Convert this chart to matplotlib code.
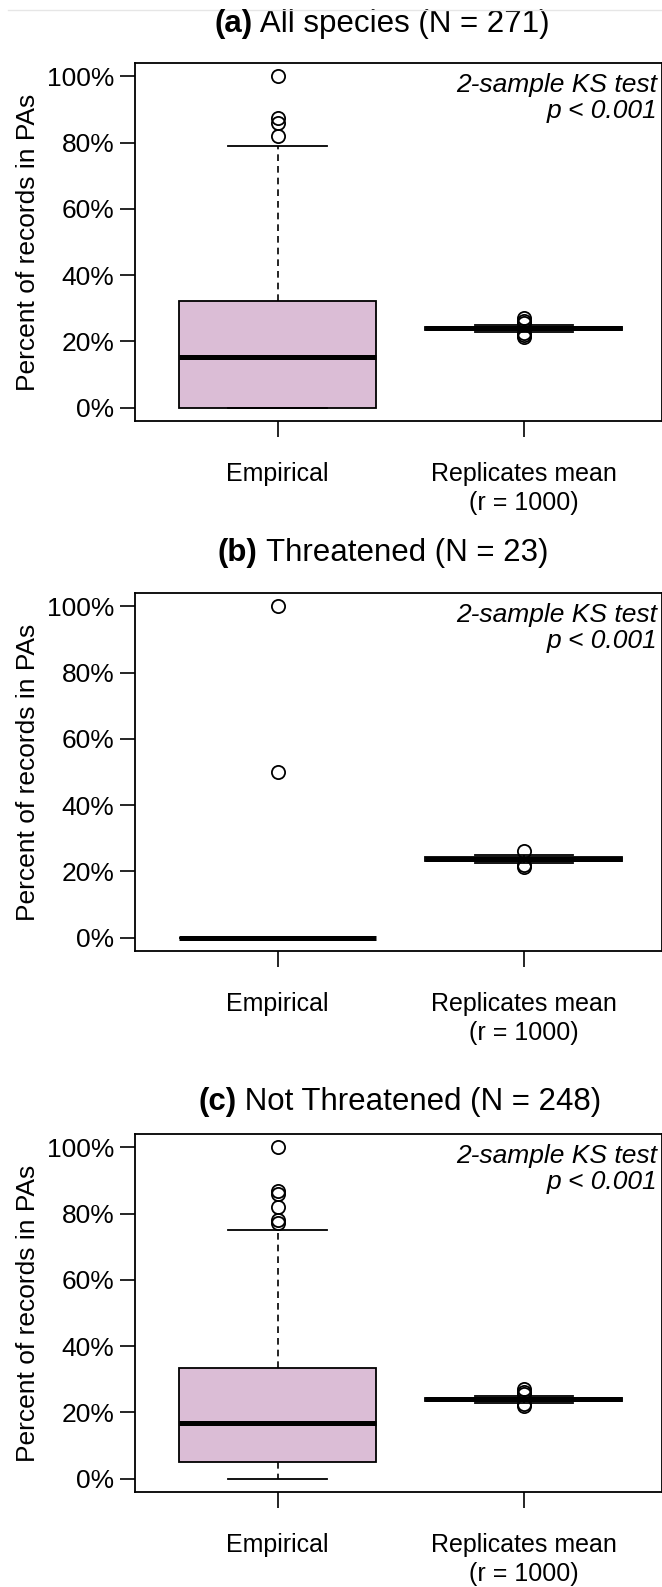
import matplotlib
matplotlib.use("Agg")
import matplotlib.pyplot as plt
from matplotlib.lines import Line2D
from matplotlib.ticker import FuncFormatter

plt.rcParams['font.family'] = ['Liberation Sans', 'DejaVu Sans']

# panel titles
panel_tags = ["(a)", "(b)", "(c)"]
panel_names = [" All species (N = 271)", " Threatened (N = 23)", " Not Threatened (N = 248)"]
groups = ["Empirical", "Replicates mean\n(r = 1000)"]

# box stats (percent of records in PAs)
# (a) all species
a_emp = dict(q1=0.0, med=15.4, q3=32.3, whislo=0.0, whishi=78.9, fliers=[100.0, 87.3, 85.8, 82.0])
a_rep = dict(q1=23.5, med=24.0, q3=24.5, whislo=22.9, whishi=25.0, fliers=[21.2, 21.8, 22.4, 25.5, 26.2, 27.0])
# (b) threatened
b_emp = dict(q1=0.0, med=0.0, q3=0.0, whislo=0.0, whishi=0.0, fliers=[100.0, 50.0])
b_rep = dict(q1=23.3, med=23.8, q3=24.3, whislo=22.5, whishi=24.9, fliers=[21.2, 21.9, 26.2])
# (c) not threatened
c_emp = dict(q1=5.1, med=16.8, q3=33.4, whislo=0.0, whishi=75.0, fliers=[100.0, 86.8, 86.0, 82.0, 78.2, 77.2])
c_rep = dict(q1=23.5, med=24.0, q3=24.5, whislo=23.0, whishi=25.0, fliers=[22.0, 22.6, 25.6, 26.3, 27.2])

panels = [[a_emp, a_rep], [b_emp, b_rep], [c_emp, c_rep]]

W, H = 662, 1587
fig = plt.figure(figsize=(W / 100, H / 100), dpi=100)

# faint line at the very top (scan artefact)
fig.add_artist(Line2D([8 / W, 1], [1 - 10 / H, 1 - 10 / H], color='#e6e6e6', lw=1))

ax_tops = [63, 593, 1134]       # pixel rows of the frames
ax_h = 358
title_y = [24, 553, 1102]
title_x = [215, 218, 198]
fill = '#dbbdd6'

for i, stats in enumerate(panels):
    top = ax_tops[i]
    ax = fig.add_axes([135 / W, 1 - (top + ax_h) / H, 526.5 / W, ax_h / H])
    for s, lab in zip(stats, ["emp", "rep"]):
        s['label'] = lab
    ax.bxp(stats, positions=[1, 2], widths=0.8, patch_artist=True,
           capwidths=0.4,
           boxprops=dict(facecolor=fill, edgecolor='black', linewidth=1.3),
           medianprops=dict(color='black', linewidth=3.6, solid_capstyle='butt'),
           whiskerprops=dict(color='black', linewidth=1.2, linestyle=(0, (4, 3))),
           capprops=dict(color='black', linewidth=1.3),
           flierprops=dict(marker='o', markerfacecolor='none', markeredgecolor='black',
                           markersize=9.5, markeredgewidth=1.3))
    ax.set_xlim(0.42, 2.56)
    ax.set_ylim(-4, 104)
    ax.set_yticks([0, 20, 40, 60, 80, 100])
    ax.yaxis.set_major_formatter(FuncFormatter(lambda v, p: f"{v:.0f}%"))
    ax.set_xticks([1, 2])
    ax.set_xticklabels(groups, fontsize=18, linespacing=1.25, va='top')
    ax.tick_params(axis='y', labelsize=19, length=11, width=1.2, pad=4)
    ax.tick_params(axis='x', length=11.5, width=1.2, pad=18)
    for sp in ax.spines.values():
        sp.set_linewidth(1.3)
    ax.set_ylabel("Percent of records in PAs", fontsize=19)
    ax.yaxis.set_label_coords(-0.18, 0.5)
    ax.text(0.992, 0.972, "2-sample KS test\np < 0.001", transform=ax.transAxes,
            ha='right', va='top', fontsize=19, style='italic', linespacing=1.1)

    t1 = fig.text(title_x[i] / W, 1 - title_y[i] / H, panel_tags[i], fontsize=22.5,
                  fontweight='bold', ha='left', va='center')
    ax.annotate(panel_names[i], xy=(1, 0), xycoords=t1, ha='left', va='bottom', fontsize=22.5,
                annotation_clip=False)

fig.savefig("out.png", dpi=100)
